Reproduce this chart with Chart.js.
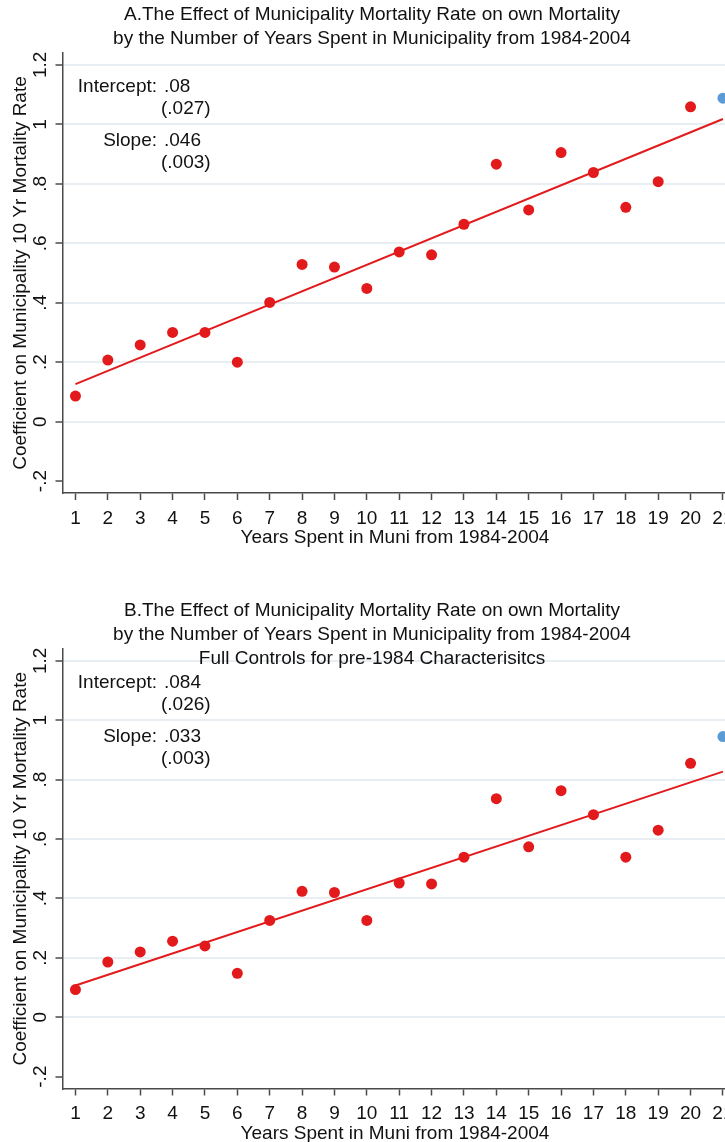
<!DOCTYPE html>
<html>
<head>
<meta charset="utf-8">
<script src="https://cdn.jsdelivr.net/npm/chart.js@4.4.1/dist/chart.umd.min.js"></script>
<style>
  html, body { margin: 0; padding: 0; background: #ffffff; }
  #wrap { position: relative; width: 725px; height: 1142px; overflow: hidden; background: #ffffff; }
  #wrap canvas { position: absolute; left: 0; }
</style>
</head>
<body>
<div id="wrap">
  <canvas id="panelA" style="top:0px"></canvas>
  <canvas id="panelB" style="top:571px"></canvas>
</div>
<script>
// Years spent in the municipality (x) and estimated coefficients (y)
const years = [1, 2, 3, 4, 5, 6, 7, 8, 9, 10, 11, 12, 13, 14, 15, 16, 17, 18, 19, 20, 21];
const coefA = [0.086, 0.207, 0.258, 0.300, 0.300, 0.200, 0.401, 0.529, 0.520, 0.448,
               0.571, 0.561, 0.664, 0.866, 0.712, 0.905, 0.838, 0.721, 0.807, 1.059, 1.088];
const coefB = [0.093, 0.186, 0.220, 0.256, 0.240, 0.148, 0.326, 0.424, 0.420, 0.326,
               0.452, 0.449, 0.539, 0.736, 0.574, 0.763, 0.682, 0.539, 0.630, 0.855, 0.945];

// Linear fit through the coefficients, given at its two ends
const fitX = [1, 21];
const fitA = [0.126, 1.018];
const fitB = [0.107, 0.827];

// Axis ticks
const xTicks = years;
const yTicks = [-0.2, 0, 0.2, 0.4, 0.6, 0.8, 1, 1.2];
const yTickLabels = ['-.2', '0', '.2', '.4', '.6', '.8', '1', '1.2'];

// Text
const titleA = ['A.The Effect of Municipality Mortality Rate on own Mortality',
                'by the Number of Years Spent in Municipality from 1984-2004'];
const titleB = ['B.The Effect of Municipality Mortality Rate on own Mortality',
                'by the Number of Years Spent in Municipality from 1984-2004',
                'Full Controls for pre-1984 Characterisitcs'];
const yTitle = 'Coefficient on Municipality 10 Yr Mortality Rate';
const xTitle = 'Years Spent in Muni from 1984-2004';
const statNames = ['Intercept:', 'Slope:'];
const statsA = ['.08', '.046'];
const seA = ['(.027)', '(.003)'];
const statsB = ['.084', '.033'];
const seB = ['(.026)', '(.003)'];

const FONT = "'Liberation Sans', Arial, Helvetica, sans-serif";
const RED = '#e31a1c';
const BLUE = '#5b9bd5';
const AXIS = '#4a4a4a';
const GRID = '#e8eef1';
const INK = '#111111';

Chart.defaults.font.family = FONT;
Chart.defaults.color = INK;

// Titles, rotated y labels, axis titles and the fit statistics
const panelText = {
  id: 'panelText',
  afterDraw(chart, args, o) {
    const ctx = chart.ctx;
    const area = chart.chartArea;
    const ys = chart.scales.y;
    ctx.save();
    ctx.fillStyle = INK;
    ctx.font = '19px ' + FONT;
    ctx.textBaseline = 'middle';

    // main title
    ctx.textAlign = 'center';
    o.title.forEach((t, i) => ctx.fillText(t, o.titleX, o.titleY + i * o.titleGap));

    // x axis title
    ctx.fillText(xTitle, o.xTitleX, area.bottom + o.xTitleOffset);

    // y axis title
    ctx.save();
    ctx.translate(o.yTitleX, (area.top + area.bottom) / 2);
    ctx.rotate(-Math.PI / 2);
    ctx.fillText(yTitle, 0, 0);
    ctx.restore();

    // y tick labels, rotated
    yTicks.forEach((v, i) => {
      ctx.save();
      ctx.translate(o.yTickX, ys.getPixelForValue(v));
      ctx.rotate(-Math.PI / 2);
      ctx.fillText(yTickLabels[i], 0, 0);
      ctx.restore();
    });

    // fit statistics
    const top = ys.getPixelForValue(1.2);
    const rows = [22, 44, 76, 98];
    ctx.textAlign = 'right';
    ctx.fillText(statNames[0], 157, top + rows[0]);
    ctx.fillText(statNames[1], 157, top + rows[2]);
    ctx.textAlign = 'left';
    ctx.fillText(o.stats[0], 164, top + rows[0]);
    ctx.fillText(o.se[0], 161, top + rows[1]);
    ctx.fillText(o.stats[1], 164, top + rows[2]);
    ctx.fillText(o.se[1], 161, top + rows[3]);
    ctx.restore();
  }
};

function makePanel(id, coef, fit, text, box) {
  const cv = document.getElementById(id);
  cv.width = 732;
  cv.height = 571;
  return new Chart(cv, {
    data: {
      datasets: [
        {
          type: 'line',
          data: fitX.map((x, i) => ({ x: x, y: fit[i] })),
          borderColor: RED,
          borderWidth: 2,
          pointRadius: 0,
          fill: false,
          order: 2
        },
        {
          type: 'scatter',
          data: years.map((x, i) => ({ x: x, y: coef[i] })),
          pointRadius: 5.5,
          pointHoverRadius: 5.5,
          borderWidth: 0,
          backgroundColor: c => (c.dataIndex === years.length - 1 ? BLUE : RED),
          borderColor: c => (c.dataIndex === years.length - 1 ? BLUE : RED),
          order: 1
        }
      ]
    },
    options: {
      responsive: false,
      animation: false,
      events: [],
      layout: { padding: { top: box.top, right: 0, left: 0, bottom: 0 } },
      plugins: {
        legend: { display: false },
        tooltip: { enabled: false },
        panelText: text
      },
      scales: {
        x: {
          type: 'linear',
          min: 0.6,
          max: 21.11,
          afterBuildTicks: s => { s.ticks = xTicks.map(v => ({ value: v })); },
          afterFit: s => { s.height = box.xAxisH; s.paddingLeft = 0; s.paddingRight = 0; },
          ticks: { font: { size: 19 }, color: INK, padding: 7, maxRotation: 0, autoSkip: false },
          grid: { drawOnChartArea: false, drawTicks: true, tickLength: 7, tickColor: AXIS, tickWidth: 1.5 },
          border: { color: AXIS, width: 1.5 }
        },
        y: {
          type: 'linear',
          min: -0.24,
          max: 1.24,
          afterBuildTicks: s => { s.ticks = yTicks.map(v => ({ value: v })); },
          afterFit: s => { s.width = 62.5; s.paddingTop = 0; s.paddingBottom = 0; },
          ticks: { display: false },
          grid: {
            color: c => (c.tick && c.tick.value < -0.1 ? 'rgba(0,0,0,0)' : GRID),
            lineWidth: 2,
            drawTicks: true,
            tickLength: 7,
            tickColor: AXIS,
            tickWidth: 1.5
          },
          border: { color: AXIS, width: 1.5 }
        }
      }
    },
    plugins: [panelText]
  });
}

makePanel('panelA', coefA, fitA,
  { title: titleA, titleX: 372, titleY: 15, titleGap: 24, xTitleX: 395, xTitleOffset: 45, yTitleX: 21, yTickX: 41,
    stats: statsA, se: seA },
  { top: 53, xAxisH: 78 });

makePanel('panelB', coefB, fitB,
  { title: titleB, titleX: 372, titleY: 40, titleGap: 24, xTitleX: 395, xTitleOffset: 45, yTitleX: 21, yTickX: 41,
    stats: statsB, se: seB },
  { top: 78, xAxisH: 53.5 });
</script>
</body>
</html>
